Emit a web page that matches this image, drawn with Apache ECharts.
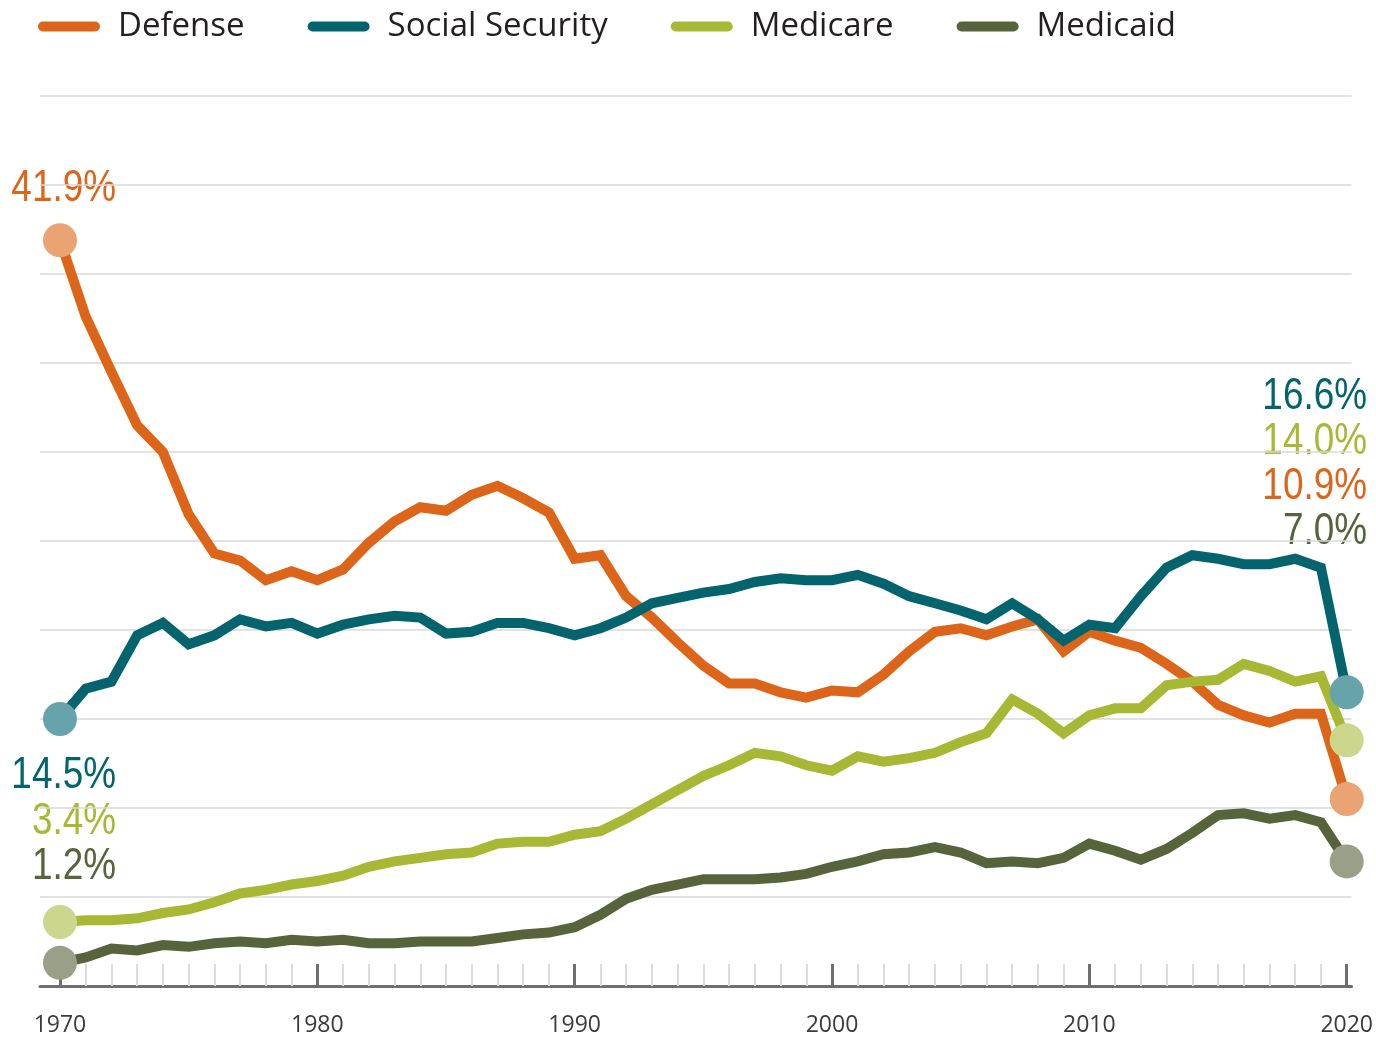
<!DOCTYPE html>
<html>
<head>
<meta charset="utf-8">
<script src="https://cdn.jsdelivr.net/npm/echarts@6/dist/echarts.min.js"></script>
<style>
  html, body { margin: 0; padding: 0; background: #fff; }
  #main { width: 1376px; height: 1037px; }
</style>
</head>
<body>
<div id="main"></div>
<script>
// years 1970..2020
const years = [];
for (let y = 1970; y <= 2020; y++) years.push(y);
const decadeLabels = [1970, 1980, 1990, 2000, 2010, 2020];

// share of federal outlays, %
const defense = [41.9, 37.6, 34.5, 31.5, 30.0, 26.5, 24.3, 23.9, 22.8, 23.3,
  22.8, 23.4, 24.9, 26.1, 26.9, 26.7, 27.6, 28.1, 27.4, 26.6,
  24.0, 24.2, 21.9, 20.7, 19.3, 18.0, 17.0, 17.0, 16.5, 16.2,
  16.6, 16.5, 17.5, 18.8, 19.9, 20.1, 19.7, 20.2, 20.6, 18.8,
  19.9, 19.4, 19.0, 18.1, 17.1, 15.8, 15.2, 14.8, 15.3, 15.3, 10.5];
const socialSecurity = [15.0, 16.7, 17.1, 19.7, 20.4, 19.2, 19.7, 20.6, 20.2, 20.4,
  19.8, 20.3, 20.6, 20.8, 20.7, 19.8, 19.9, 20.4, 20.4, 20.1,
  19.7, 20.1, 20.7, 21.5, 21.8, 22.1, 22.3, 22.7, 22.9, 22.8,
  22.8, 23.1, 22.6, 21.9, 21.5, 21.1, 20.6, 21.5, 20.6, 19.4,
  20.3, 20.1, 21.9, 23.5, 24.2, 24.0, 23.7, 23.7, 24.0, 23.5, 16.5];
const medicare = [3.6, 3.7, 3.7, 3.8, 4.1, 4.3, 4.7, 5.2, 5.4, 5.7,
  5.9, 6.2, 6.7, 7.0, 7.2, 7.4, 7.5, 8.0, 8.1, 8.1,
  8.5, 8.7, 9.4, 10.2, 11.0, 11.8, 12.4, 13.1, 12.9, 12.4,
  12.1, 12.9, 12.6, 12.8, 13.1, 13.7, 14.2, 16.1, 15.3, 14.2,
  15.2, 15.6, 15.6, 16.9, 17.1, 17.2, 18.1, 17.7, 17.1, 17.4, 13.8];
const medicaid = [1.3, 1.6, 2.1, 2.0, 2.3, 2.2, 2.4, 2.5, 2.4, 2.6,
  2.5, 2.6, 2.4, 2.4, 2.5, 2.5, 2.5, 2.7, 2.9, 3.0,
  3.3, 4.0, 4.9, 5.4, 5.7, 6.0, 6.0, 6.0, 6.1, 6.3,
  6.7, 7.0, 7.4, 7.5, 7.8, 7.5, 6.9, 7.0, 6.9, 7.2,
  8.0, 7.6, 7.1, 7.7, 8.6, 9.6, 9.7, 9.4, 9.6, 9.2, 7.0];

const seriesNames = ['Defense', 'Social Security', 'Medicare', 'Medicaid'];
const lineColors = ['#dc6519', '#03646e', '#a7b834', '#57633a'];
const dotColors = ['#eaa373', '#66a3ab', '#ccd68c', '#9a9f87'];
const startLabels = ['41.9%', '14.5%', '3.4%', '1.2%'];
const endLabels = ['10.9%', '16.6%', '14.0%', '7.0%'];

const allData = [defense, socialSecurity, medicare, medicaid];

const chart = echarts.init(document.getElementById('main'));

const lineSeries = allData.map((vals, i) => ({
  name: seriesNames[i],
  type: 'line',
  data: years.map((y, k) => [y, vals[k]]),
  symbol: 'none',
  itemStyle: { color: lineColors[i] },
  lineStyle: { color: lineColors[i], width: 10, join: 'miter', cap: 'butt' },
  z: 3 + i,
  animation: false
}));

const dotSeries = allData.map((vals, i) => ({
  type: 'scatter',
  data: [
    [years[0], vals[0]],
    [years[years.length - 1], vals[vals.length - 1]]
  ],
  symbolSize: 34,
  itemStyle: { color: dotColors[i], opacity: 1 },
  z: 10,
  silent: true,
  animation: false
}));

// condensed look: Liberation Sans squeezed horizontally
const labelFont = '45px "Liberation Sans", Arial, sans-serif';
function note(text, color, xRight, yMid) {
  return {
    type: 'text', x: xRight, y: yMid, scaleX: 0.82, scaleY: 1,
    style: { text: text, fill: color, font: labelFont, textAlign: 'right', textVerticalAlign: 'middle' }
  };
}
const leftOrder = [1, 2, 3];
const rightOrder = [1, 2, 0, 3];
const graphics = [note(startLabels[0], lineColors[0], 116, 189)];
leftOrder.forEach((idx, k) => graphics.push(note(startLabels[idx], lineColors[idx], 116, 776 + k * 45.5)));
rightOrder.forEach((idx, k) => graphics.push(note(endLabels[idx], lineColors[idx], 1367, 397 + k * 45)));

const xMin = 1969.224, xMax = 2020.19;

const option = {
  backgroundColor: '#fff',
  animation: false,
  textStyle: { fontFamily: '"Open Sans", sans-serif' },
  legend: {
    data: seriesNames,
    left: 33,
    top: 5,
    itemWidth: 62,
    itemHeight: 10,
    itemGap: 63,
    icon: 'path://M5,0 L57,0 A5,5 0 0 1 57,10 L5,10 A5,5 0 0 1 5,0 Z',
    textStyle: { fontSize: 33, color: '#231f20', padding: [0, 0, 0, 13], fontFamily: '"Open Sans", sans-serif' },
    selectedMode: false
  },
  grid: { left: 40, right: 23, top: 96, bottom: 51, containLabel: false },
  xAxis: [
    {
      type: 'value', min: xMin, max: xMax, position: 'bottom',
      splitLine: { show: false },
      axisLine: { show: true, lineStyle: { color: '#6d6e70', width: 3 } },
      axisTick: { show: true, inside: true, length: 22, customValues: years, lineStyle: { color: '#dcdcdc', width: 2 } },
      axisLabel: { show: false }
    },
    {
      type: 'value', min: xMin, max: xMax, position: 'bottom',
      splitLine: { show: false },
      axisLine: { show: false },
      axisTick: { show: true, inside: true, length: 22, customValues: decadeLabels, lineStyle: { color: '#6d6e70', width: 3 } },
      axisLabel: {
        show: true, customValues: decadeLabels, margin: 28,
        formatter: v => String(v), fontSize: 23, color: '#3a3a3a',
        fontFamily: '"Open Sans", sans-serif'
      }
    }
  ],
  yAxis: {
    type: 'value', min: 0, max: 50, interval: 5,
    axisLine: { show: false }, axisTick: { show: false }, axisLabel: { show: false },
    splitLine: { show: true, lineStyle: { color: '#d9d9d9', width: 1.5 } }
  },
  graphic: graphics,
  series: lineSeries.concat(dotSeries)
};

chart.setOption(option);
</script>
</body>
</html>
